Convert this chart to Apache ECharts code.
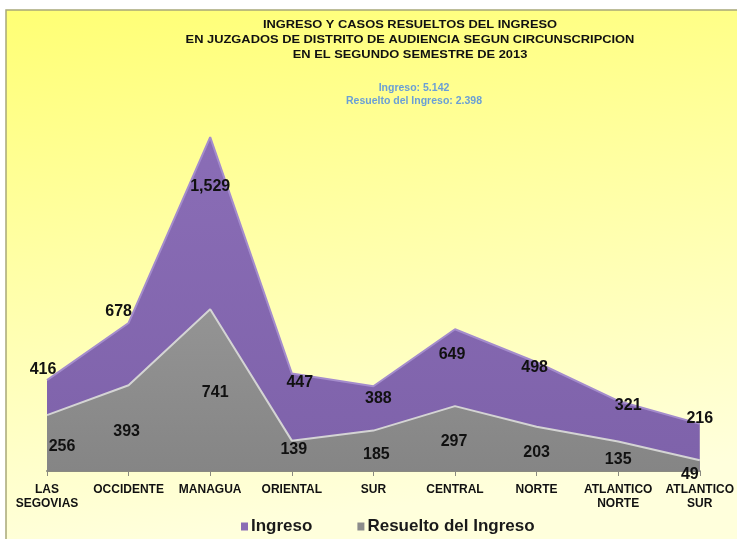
<!DOCTYPE html>
<html>
<head>
<meta charset="utf-8">
<script src="https://cdn.jsdelivr.net/npm/echarts@6/dist/echarts.min.js"></script>
<style>html,body{margin:0;padding:0;background:#fff}#c{width:737px;height:539px}</style>
</head>
<body>
<div id="c"></div>
<script>
const categories = ['LAS\nSEGOVIAS','OCCIDENTE','MANAGUA','ORIENTAL','SUR','CENTRAL','NORTE','ATLANTICO\nNORTE','ATLANTICO\nSUR'];
const ingreso = [416, 678, 1529, 447, 388, 649, 498, 321, 216];
const resuelto = [256, 393, 741, 139, 185, 297, 203, 135, 49];
const titleLines = ['INGRESO Y CASOS RESUELTOS DEL INGRESO','EN JUZGADOS DE DISTRITO DE AUDIENCIA SEGUN CIRCUNSCRIPCION','EN EL SEGUNDO SEMESTRE DE 2013'];
const subtitleLines = ['Ingreso: 5.142','Resuelto del Ingreso: 2.398'];
const seriesNames = ['Ingreso','Resuelto del Ingreso'];

// label placement offsets (styling only)
const ingresoLabelOffsets = [[-4,-11],[-10,-11],[0,49],[8,9],[5,12],[-3,25],[-2,5],[10,5],[0,-5]];
const resueltoLabelOffsets = [[15,31],[-2,46],[5,83],[2,9],[3,24],[-1,35],[0,26],[0,18],[-10,14]];

const chart = echarts.init(document.getElementById('c'), null, {renderer:'canvas'});
const labelStyle = {show:true, position:'inside', fontFamily:'Arial, Liberation Sans', fontWeight:'bold', fontSize:16, color:'#111'};
function build(vals, offs){
  return vals.map((v,i)=>({value:v, label:Object.assign({}, labelStyle, {offset:offs[i]})}));
}
const fmt = (p)=>Number(p.value).toLocaleString('en-US');
const graphics = [
  {type:'rect', z:-100, shape:{x:6,y:10,width:740,height:540},
   style:{fill:new echarts.graphic.LinearGradient(0,0,0.1,1,[{offset:0,color:'#ffff74'},{offset:0.45,color:'#ffffa4'},{offset:1,color:'#ffffdc'}]), stroke:'#a8a878', lineWidth:1.5}}
];
titleLines.forEach((t,i)=>graphics.push({type:'text', x:410, y:25+i*15, scaleX:1.17, style:{text:t, textAlign:'center', textVerticalAlign:'middle', font:'bold 11px Arial, "Liberation Sans"', fill:'#111'}}));
subtitleLines.forEach((t,i)=>graphics.push({type:'text', x:414, y:88+i*13, style:{text:t, textAlign:'center', textVerticalAlign:'middle', font:'bold 10.5px Arial, "Liberation Sans"', fill:'#6a9fd6'}}));

chart.setOption({
  backgroundColor:'#ffffff',
  animation:false,
  graphic:graphics,
  grid:{left:47, right:32, top:78, bottom:68},
  legend:{
    data:[{name:seriesNames[0], itemStyle:{color:'#8a6cb4'}},{name:seriesNames[1], itemStyle:{color:'#8c8c8c'}}],
    left:236, top:513, itemWidth:7, itemHeight:8, itemGap:45, icon:'rect',
    textStyle:{fontFamily:'Arial, Liberation Sans', fontSize:17, fontWeight:'bold', color:'#1a1a1a', padding:[0,0,0,-2]}
  },
  xAxis:{
    type:'category', data:categories, boundaryGap:false,
    axisLine:{lineStyle:{color:'#8a8a80', width:2}},
    axisTick:{show:true, alignWithLabel:true, length:5, lineStyle:{color:'#8a8a80'}},
    axisLabel:{interval:0, margin:12, fontFamily:'Arial, Liberation Sans', fontWeight:'bold', fontSize:12, lineHeight:14, color:'#111'}
  },
  yAxis:{type:'value', min:0, max:1800, show:false, splitLine:{show:false}},
  series:[
    {name:seriesNames[0], type:'line', data:build(ingreso, ingresoLabelOffsets),
     symbol:'circle', symbolSize:1, itemStyle:{color:'rgba(0,0,0,0)'},
     label:Object.assign({}, labelStyle, {formatter:fmt}),
     lineStyle:{color:'#a48ccc', width:2},
     areaStyle:{opacity:1, color:new echarts.graphic.LinearGradient(0,0,0,1,[{offset:0,color:'#8a6db6'},{offset:1,color:'#7e62aa'}])},
     z:2},
    {name:seriesNames[1], type:'line', data:build(resuelto, resueltoLabelOffsets),
     symbol:'circle', symbolSize:1, itemStyle:{color:'rgba(0,0,0,0)'},
     label:Object.assign({}, labelStyle, {formatter:fmt}),
     lineStyle:{color:'#d4d4d4', width:2},
     areaStyle:{opacity:1, color:new echarts.graphic.LinearGradient(0,0,0,1,[{offset:0,color:'#949494'},{offset:1,color:'#858585'}])},
     z:3}
  ]
});
</script>
</body>
</html>
